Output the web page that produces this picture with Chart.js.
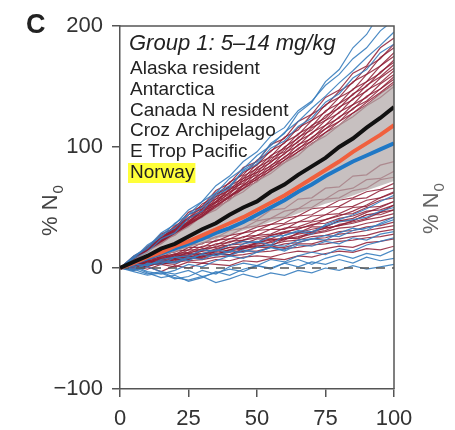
<!DOCTYPE html>
<html><head><meta charset="utf-8">
<script src="https://cdn.jsdelivr.net/npm/chart.js@4"></script>
<style>html,body{margin:0;padding:0;background:#fff}</style>
</head><body>
<canvas id="c" width="455" height="430"></canvas>
<script>
const xSteps = [0,5,10,15,20,25,30,35,40,45,50,55,60,65,70,75,80,85,90,95,100];
const xTicks = [0,25,50,75,100];
const yTicks = [-100,0,100,200];

const meanAll  = [0,5,10,16,20,26,32,37,44,50,55,63,69,77,84,91,100,107,116,124,133];
const meanRed  = [0,4,9,13,18,22,27,32,37,42,48,54,60,67,74,81,88,96,103,110,118];
const meanBlue = [0,4,8,12,16,20,24,29,33,38,44,50,56,63,69,76,82,88,93,98,103];

const bandUpper = [0,7,14,21,28,35,42,50,57,65,72,80,88,95,103,111,119,127,135,144,152];
const bandLower = [0,3,7,10,13,17,20,24,27,31,34,38,41,45,49,53,56,60,64,68,72];

const zeroX = [0,100];
const zeroY = [0,0];

const redRunsUpper = [
 [0,10,16,28,33,46,51,64,70,83,88,102,107,121,127,141,147,161,167,182,190],
 [0,7,18,24,35,41,53,59,71,77,89,96,108,114,127,134,146,153,166,173,185],
 [0,9,15,26,32,44,49,61,67,79,85,97,103,116,122,135,141,154,160,174,182],
 [0,7,17,23,34,40,51,57,68,74,86,92,104,110,122,129,141,147,160,167,178],
 [0,9,15,25,31,42,47,59,64,76,82,93,99,111,117,130,136,148,154,167,175],
 [0,7,16,22,33,38,49,55,66,72,83,89,100,107,118,124,136,143,154,161,172],
 [0,8,14,25,30,41,46,57,62,74,79,91,96,108,114,126,132,144,150,162,170],
 [0,6,17,22,32,37,48,54,65,70,81,87,98,104,116,122,133,139,151,158,168],
 [0,8,14,24,29,39,45,55,61,72,77,88,94,105,111,122,128,140,146,157,165],
 [0,6,16,21,31,37,47,52,63,68,79,84,95,101,112,118,129,135,147,153,163],
 [0,8,14,23,28,38,43,54,59,69,75,85,91,102,107,118,124,135,141,152,160],
 [0,6,15,21,30,36,45,51,60,66,76,82,92,98,108,115,125,131,142,148,158],
 [0,8,13,23,27,37,42,52,58,68,73,83,89,99,105,115,121,132,138,148,156],
 [0,6,15,20,29,35,44,50,59,65,74,80,89,96,105,112,121,128,137,145,154],
 [0,7,13,22,27,36,42,50,56,66,71,81,87,96,102,112,118,128,135,144,152],
 [0,6,14,20,28,34,43,48,57,63,72,78,87,93,103,109,118,125,134,141,150]
];
const blueRunsUpper = [
 [0,8,13,24,29,41,47,60,66,81,88,103,111,128,137,154,164,182,193,211,225],
 [0,10,17,29,36,48,55,68,76,88,96,109,116,130,138,151,160,173,182,196,205],
 [0,8,19,26,37,44,55,62,74,82,93,101,112,121,132,142,153,163,174,184,195],
 [0,9,16,27,33,44,50,62,68,80,86,99,105,117,124,137,144,157,164,178,185]
];
const redRunsLower = [
 [0,5,7,13,15,22,23,30,32,39,40,48,49,57,58,66,67,76,77,85,88],
 [0,3,8,10,16,17,24,25,31,33,39,41,47,49,56,57,64,66,73,74,80],
 [0,5,6,12,13,19,20,26,27,33,35,41,42,49,50,57,58,64,66,73,75],
 [0,2,7,9,14,15,21,22,27,29,34,36,41,43,49,50,56,58,63,65,70],
 [0,4,5,10,11,17,17,23,24,29,31,36,37,43,44,50,51,57,58,64,66],
 [0,2,6,8,12,13,18,19,24,25,31,32,36,38,43,44,50,51,56,58,62],
 [0,4,4,9,10,15,15,20,21,26,27,32,32,38,39,44,45,50,51,56,58],
 [0,1,6,7,11,12,16,17,22,23,27,28,33,34,38,40,44,45,50,51,55],
 [0,3,4,8,9,13,14,18,19,23,25,27,30,32,36,37,41,43,47,48,52],
 [0,1,5,6,10,10,14,15,19,20,24,24,29,29,34,34,39,39,44,44,48],
 [0,3,3,7,8,11,12,14,17,18,21,23,25,28,30,33,35,37,40,42,45],
 [0,1,5,5,8,9,12,13,15,17,20,21,24,25,28,30,33,34,37,39,42],
 [0,2,3,6,6,9,10,12,14,16,18,19,22,23,26,27,30,31,34,35,38],
 [0,0,4,4,7,7,10,11,13,14,17,17,20,21,24,25,28,29,31,33,35],
 [0,2,2,5,5,8,8,11,11,14,14,17,17,20,20,23,24,26,27,30,32],
 [0,-1,3,3,5,6,7,9,10,11,13,14,16,17,19,20,22,23,25,26,28],
 [0,2,-1,3,1,5,4,7,6,9,10,9,12,14,13,16,18,17,21,22,24],
 [0,-2,1,-3,2,0,4,3,2,6,5,8,7,10,9,12,14,13,16,15,18],
 [0,3,1,5,8,7,12,11,15,18,17,22,25,24,30,33,35,39,44,46,52],
 [0,-1,2,4,3,8,9,12,11,16,19,18,24,26,29,31,36,38,41,46,48],
 [0,2,4,3,7,10,9,14,17,16,21,24,23,29,32,34,39,41,46,50,55],
 [0,4,3,7,9,12,11,16,19,22,21,27,29,33,35,40,43,47,52,58,63]
];
const blueRunsLower = [
 [0,-2,4,3,9,6,12,15,13,20,22,19,27,30,28,36,40,44,49,55,60],
 [0,2,-3,-5,-2,3,1,6,10,8,13,17,15,21,24,23,29,33,31,37,42],
 [0,-3,-6,-4,-9,-7,-2,-5,1,4,2,7,5,10,13,11,16,14,19,22,25],
 [0,1,-4,-8,-6,-11,-8,-3,-6,-1,2,-1,4,7,3,8,11,8,12,10,15],
 [0,-2,1,-3,-5,-2,-7,-4,-1,-3,2,0,4,1,5,3,7,4,9,6,8],
 [0,3,2,6,5,9,7,12,10,15,13,17,14,19,18,22,20,25,23,28,30],
 [0,-1,-5,-3,-8,-10,-7,-12,-9,-5,-8,-4,-6,-2,-4,0,-2,2,-1,1,3],
 [0,3,2,7,9,10,15,14,19,22,21,26,27,31,30,35,38,40,42,47,50],
 [0,-1,3,5,4,8,11,10,14,13,17,19,18,23,24,27,26,31,33,36,40]
];

const panelLetter = 'C';
const legendTitle = 'Group 1: 5\u201314 mg/kg';
const legendItems = ['Alaska resident','Antarctica','Canada N resident','Croz Archipelago','E Trop Pacific','Norway'];
const highlightItem = 'Norway';
const yTitle = '% N';
const yTitleSub = '0';

const toPts = ys => ys.map((y,i)=>({x:xSteps[i], y}));
const datasets = [];
datasets.push({data:toPts(meanAll), borderColor:'#111', borderWidth:4, order:0});
datasets.push({data:toPts(meanRed), borderColor:'#f0603e', borderWidth:4, order:0});
datasets.push({data:toPts(meanBlue), borderColor:'#1f78c6', borderWidth:4, order:0});
datasets.push({data:zeroX.map((x,i)=>({x, y:zeroY[i]})), borderColor:'#555', borderWidth:1.5, borderDash:[9,7], order:1});
const lowerIdx = datasets.length + 1;
datasets.push({data:toPts(bandUpper), borderWidth:0, borderColor:'rgba(0,0,0,0)', backgroundColor:'rgba(178,168,168,0.72)', fill:{target:lowerIdx}, order:2});
datasets.push({data:toPts(bandLower), borderWidth:0, borderColor:'rgba(0,0,0,0)', fill:false, order:2});
const blueC = 'rgba(55,125,190,0.9)', redC = 'rgba(142,28,52,0.85)';
blueRunsUpper.concat(blueRunsLower).forEach(r=>datasets.push({data:toPts(r), borderColor:blueC, borderWidth:1.2, order:3}));
redRunsUpper.concat(redRunsLower).forEach(r=>datasets.push({data:toPts(r), borderColor:redC, borderWidth:1.2, order:4}));

const FONT = '"Liberation Sans", Arial, sans-serif';
function drawRotLabel(ctx, x, yStart, color){
  ctx.save();
  ctx.translate(x, yStart);
  ctx.rotate(-Math.PI/2);
  ctx.fillStyle = color;
  ctx.textBaseline = 'alphabetic';
  ctx.textAlign = 'left';
  ctx.font = '22px ' + FONT;
  ctx.fillText(yTitle, 0, 0);
  const w = ctx.measureText(yTitle).width;
  ctx.font = '15px ' + FONT;
  ctx.fillText(yTitleSub, w + 1, 6);
  ctx.restore();
}
const deco = {
  id:'deco',
  afterDraw(chart){
    const ctx = chart.ctx, a = chart.chartArea;
    ctx.save();
    ctx.strokeStyle = '#555'; ctx.lineWidth = 1.5;
    ctx.beginPath();
    ctx.moveTo(a.left, a.top); ctx.lineTo(a.right, a.top); ctx.lineTo(a.right, a.bottom);
    ctx.stroke();
    ctx.fillStyle = '#222';
    ctx.font = 'bold 27px ' + FONT;
    ctx.textBaseline = 'alphabetic';
    ctx.fillText(panelLetter, 26, 33);
    ctx.font = 'italic 22px ' + FONT;
    ctx.fillText(legendTitle, 129, 50);
    ctx.font = '19px ' + FONT;
    legendItems.forEach((t,i)=>{
      const y = 74 + i*20.8;
      if (t === highlightItem){
        const w = ctx.measureText(t).width;
        ctx.fillStyle = '#ffff3a';
        ctx.fillRect(128, y - 15, w + 3, 20);
        ctx.fillStyle = '#222';
      }
      ctx.fillText(t, 130, y);
    });
    ctx.restore();
    drawRotLabel(ctx, 57, 236, '#444');
    drawRotLabel(ctx, 438, 234, '#666');
  }
};

new Chart(document.getElementById('c'), {
  type:'line',
  data:{datasets},
  plugins:[deco],
  options:{
    responsive:false, animation:false, devicePixelRatio:1,
    layout:{padding:{top:26, right:61, left:0, bottom:0}},
    plugins:{legend:{display:false}, tooltip:{enabled:false}},
    elements:{point:{radius:0}, line:{tension:0}},
    scales:{
      x:{type:'linear', min:0, max:100,
         afterBuildTicks:s=>{s.ticks = xTicks.map(v=>({value:v}));},
         afterFit:s=>{s.height = 41;},
         grid:{drawOnChartArea:false, tickLength:8, color:'#555', lineWidth:1.5},
         border:{color:'#555', width:1.5},
         ticks:{font:{family:FONT, size:22}, color:'#333', padding:9, maxRotation:0, autoSkip:false}},
      y:{type:'linear', min:-100, max:200,
         afterBuildTicks:s=>{s.ticks = yTicks.map(v=>({value:v}));},
         afterFit:s=>{s.width = 120;},
         grid:{drawOnChartArea:false, tickLength:8, color:'#555', lineWidth:1.5},
         border:{color:'#555', width:1.5},
         ticks:{font:{family:FONT, size:22}, color:'#333', padding:9, autoSkip:false,
                callback:v=> v < 0 ? '\u2212' + Math.abs(v) : String(v)}}
    }
  }
});
</script>
</body></html>
